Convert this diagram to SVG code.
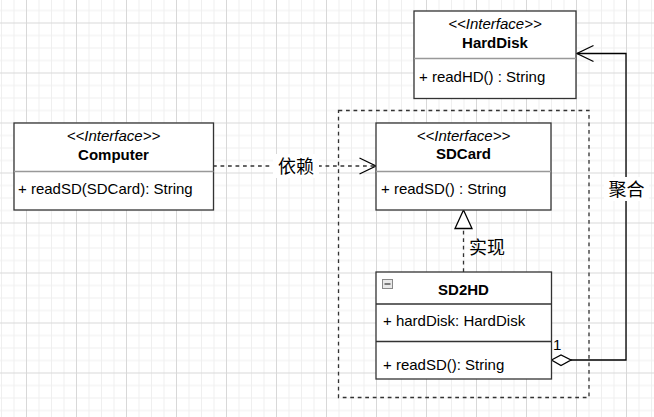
<svg xmlns="http://www.w3.org/2000/svg" width="654" height="417" viewBox="0 0 654 417">
<style>
text{font-family:"Liberation Sans",Arial,sans-serif;font-size:15px;fill:#000}
.st{font-style:italic;text-anchor:middle}
.tt{font-weight:bold;text-anchor:middle}
.box{fill:#fff;stroke:#333;stroke-width:1.3}
.div{stroke:#999;stroke-width:1.3}
.divd{stroke:#333;stroke-width:1.3}
.cj{font-family:"Noto Sans CJK SC","Liberation Sans",sans-serif;font-size:18px}
.dash{fill:none;stroke:#333;stroke-width:1.3;stroke-dasharray:3.75 3.75}
.solid{fill:none;stroke:#000;stroke-width:1.3}
</style>
<defs>
<pattern id="grid" x="1" y="-2.5" width="50" height="50" patternUnits="userSpaceOnUse">
<rect width="50" height="50" fill="#fff"/>
<path d="M0.5 0V50M13 0V50M38 0V50M0 0.5H50M0 13H50M0 38H50" stroke="#efefef" stroke-width="1"/>
<path d="M25.5 0V50M0 25.5H50" stroke="#d8d8d8" stroke-width="1"/>
</pattern>
</defs>
<rect width="654" height="417" fill="url(#grid)"/>
<rect id="frame" x="338.5" y="110.5" width="250.5" height="287" class="dash"/>
<g id="connectors">
<path d="M213 166H376" class="dash"/>
<path d="M359.5 158L376 166L359.5 174" class="solid"/>
<rect x="273" y="154" width="46" height="24" fill="#fff"/>
<text x="296" y="172.5" class="cj" text-anchor="middle">依赖</text>
<path d="M463.5 272V228.5" class="dash"/>
<path d="M463.5 210L455 228.5H472Z" fill="#fff" stroke="#000" stroke-width="1.3"/>
<text x="469" y="253.5" class="cj">实现</text>
<path d="M571 360H626V53.5H577" class="solid"/>
<path d="M593.5 45.5L577 53.5L593.5 61.5" class="solid"/>
<path d="M551.5 360L561 355L571 360L561 365.5Z" fill="#fff" stroke="#000" stroke-width="1.3"/>
<rect x="604" y="177" width="45" height="24" fill="#fff"/>
<text x="626.5" y="195.5" class="cj" text-anchor="middle">聚合</text>
<text x="553" y="349.5">1</text>
</g>
<g id="Computer">
<rect x="14" y="123" width="199.5" height="87" class="box"/>
<line x1="14" y1="171.5" x2="213.5" y2="171.5" class="div"/>
<text x="113.5" y="141" class="st">&lt;&lt;Interface&gt;&gt;</text>
<text x="113.5" y="159.5" class="tt">Computer</text>
<text x="18" y="194">+ readSD(SDCard): String</text>
</g>
<g id="SDCard">
<rect x="376" y="123" width="175" height="87" class="box"/>
<line x1="376" y1="171.5" x2="551" y2="171.5" class="div"/>
<text x="463.5" y="140.5" class="st">&lt;&lt;Interface&gt;&gt;</text>
<text x="463.5" y="159" class="tt">SDCard</text>
<text x="381" y="194">+ readSD() : String</text>
</g>
<g id="HardDisk">
<rect x="414" y="11" width="162" height="87.5" class="box"/>
<line x1="414" y1="58.5" x2="576" y2="58.5" class="div"/>
<text x="495" y="29" class="st">&lt;&lt;Interface&gt;&gt;</text>
<text x="495" y="47.5" class="tt">HardDisk</text>
<text x="419" y="82">+ readHD() : String</text>
</g>
<g id="SD2HD">
<rect x="376" y="272" width="175.5" height="107" class="box"/>
<line x1="376" y1="304" x2="551.5" y2="304" class="divd"/>
<line x1="376" y1="341.5" x2="551.5" y2="341.5" class="divd"/>
<rect x="382.5" y="279.5" width="10" height="9" fill="#e8e8e8" stroke="#888" stroke-width="1"/>
<line x1="384.5" y1="284" x2="390.5" y2="284" stroke="#555" stroke-width="1.5"/>
<text x="463.5" y="295" class="tt">SD2HD</text>
<text x="383" y="326">+ hardDisk: HardDisk</text>
<text x="383" y="369.5">+ readSD(): String</text>
</g>
</svg>
